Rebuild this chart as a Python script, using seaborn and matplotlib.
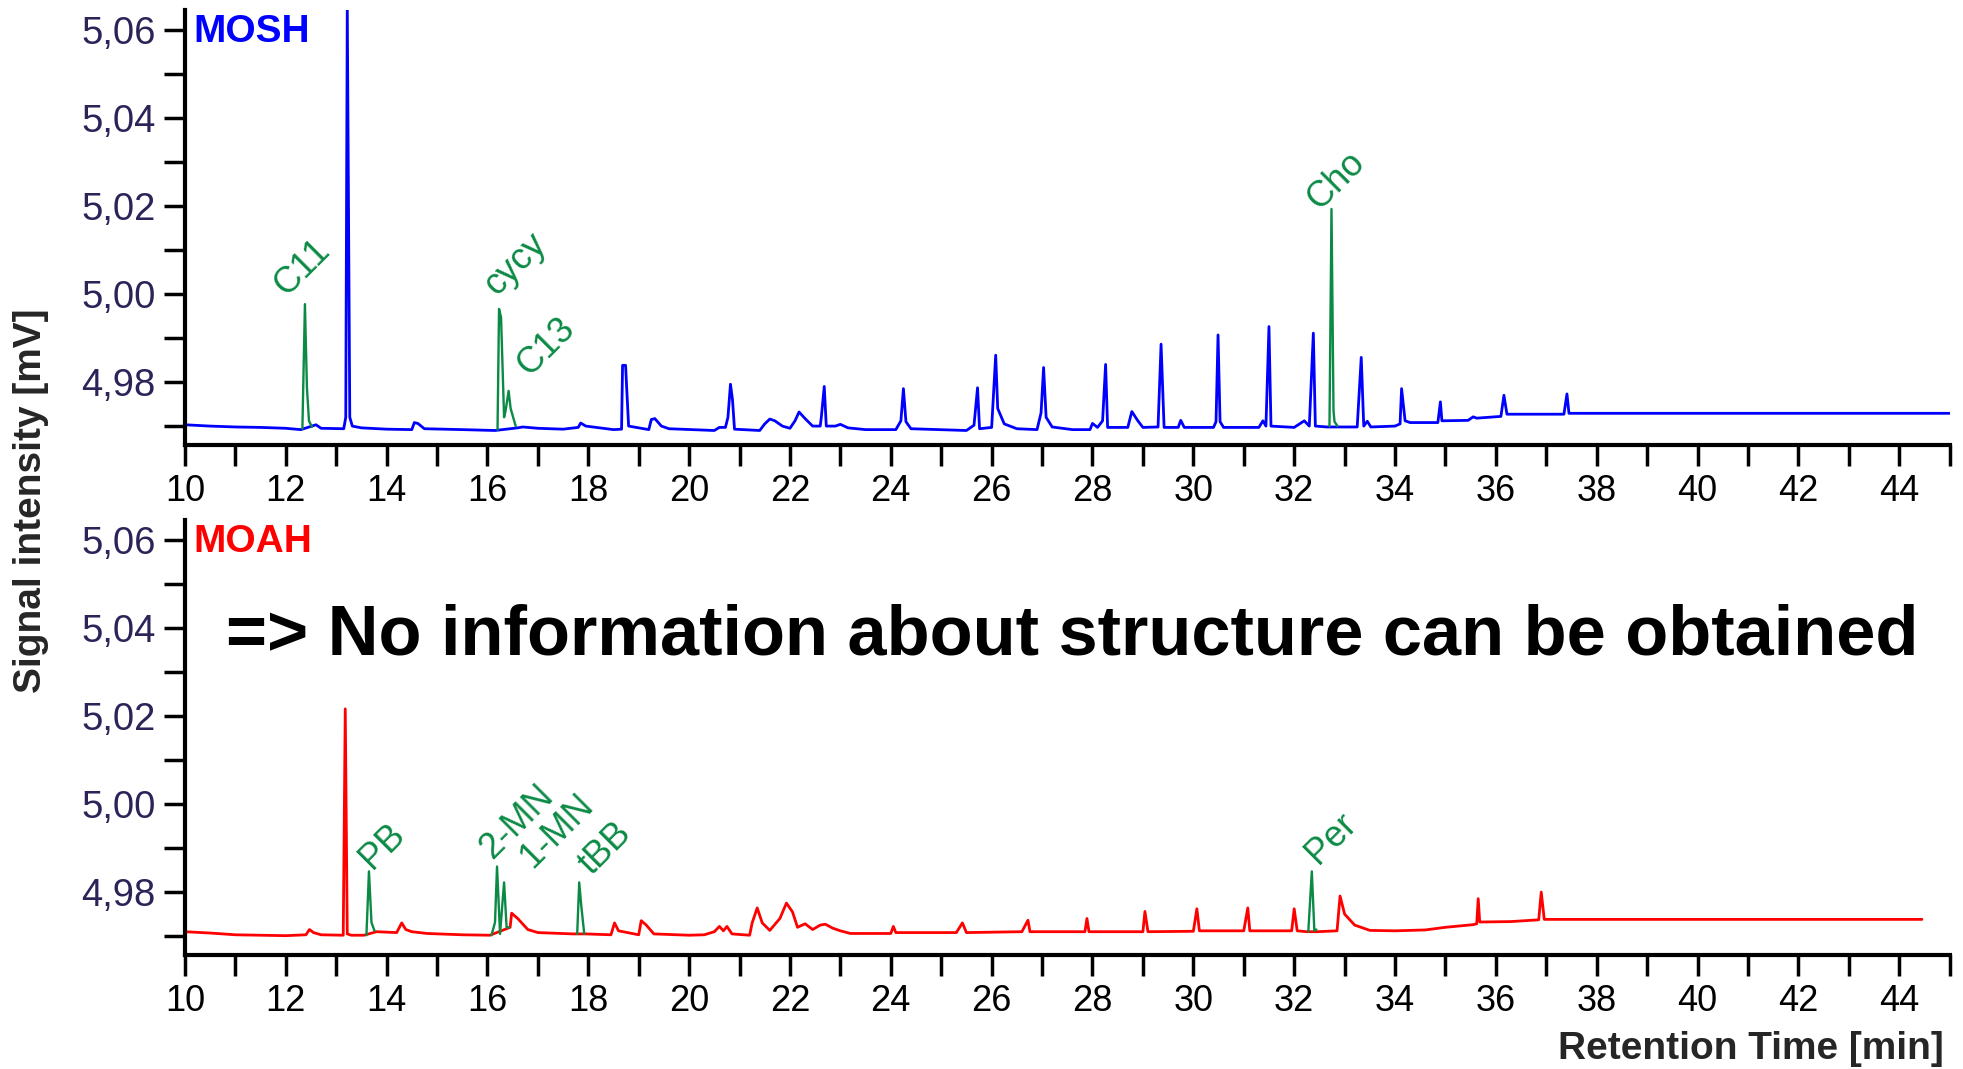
import matplotlib
matplotlib.use('Agg')
import matplotlib.pyplot as plt
import seaborn as sns
from matplotlib.ticker import FixedLocator

# ---- MOSH trace (blue) ----
mosh_t = [10.0, 10.5, 11.0, 11.5, 12.0, 12.3, 12.6, 12.7, 13.15, 13.19, 13.22, 13.27, 13.32, 13.5,
          14.0, 14.5, 14.55, 14.62, 14.75, 15.5, 16.15, 16.6, 16.7, 17.0, 17.5, 17.8, 17.85, 17.95,
          18.5, 18.66, 18.68, 18.74, 18.76, 18.8, 19.2, 19.25, 19.32, 19.45, 19.6, 20.5, 20.6, 20.72,
          20.77, 20.82, 20.86, 20.9, 21.4, 21.5, 21.6, 21.7, 21.85, 22.0, 22.1, 22.18, 22.3, 22.45,
          22.6, 22.62, 22.68, 22.72, 22.9, 23.0, 23.15, 23.5, 24.1, 24.2, 24.25, 24.3, 24.4, 25.5,
          25.65, 25.72, 25.76, 26.0, 26.08, 26.12, 26.25, 26.5, 26.9, 26.98, 27.03, 27.08, 27.2,
          27.6, 27.95, 28.0, 28.1, 28.2, 28.26, 28.3, 28.7, 28.78, 28.9, 29.0, 29.3, 29.36, 29.42,
          29.7, 29.75, 29.82, 30.4, 30.45, 30.49, 30.53, 30.6, 31.3, 31.38, 31.44, 31.5, 31.54,
          32.0, 32.2, 32.3, 32.38, 32.42, 32.65, 32.9, 33.25, 33.33, 33.38, 33.45, 33.52, 34.0,
          34.1, 34.13, 34.2, 34.3, 34.85, 34.9, 34.93, 35.45, 35.55, 35.62, 36.1, 36.16, 36.22,
          37.35, 37.41, 37.45, 45.0]
mosh_s = [4.9703, 4.9700, 4.9698, 4.9697, 4.9695, 4.9692, 4.9703, 4.9695, 4.9694, 4.9720, 5.0650,
          4.9720, 4.9700, 4.9696, 4.9693, 4.9692, 4.9708, 4.9706, 4.9694, 4.9692, 4.9690, 4.9696,
          4.9698, 4.9695, 4.9693, 4.9697, 4.9707, 4.9700, 4.9692, 4.9693, 4.9838, 4.9838, 4.9790,
          4.9700, 4.9692, 4.9715, 4.9717, 4.9700, 4.9694, 4.9690, 4.9697, 4.9697, 4.9720, 4.9795,
          4.9760, 4.9693, 4.9690, 4.9705, 4.9716, 4.9712, 4.9700, 4.9695, 4.9712, 4.9732, 4.9717,
          4.9700, 4.9700, 4.9718, 4.9790, 4.9700, 4.9700, 4.9704, 4.9696, 4.9692, 4.9692, 4.9712,
          4.9785, 4.9710, 4.9694, 4.9690, 4.9702, 4.9787, 4.9694, 4.9697, 4.9861, 4.9740, 4.9705,
          4.9694, 4.9692, 4.9730, 4.9833, 4.9720, 4.9698, 4.9692, 4.9692, 4.9706, 4.9697, 4.9712,
          4.9840, 4.9697, 4.9697, 4.9733, 4.9712, 4.9697, 4.9698, 4.9886, 4.9697, 4.9697, 4.9713,
          4.9697, 4.9697, 4.9710, 4.9907, 4.9710, 4.9697, 4.9697, 4.9712, 4.9700, 4.9926, 4.9700,
          4.9697, 4.9712, 4.9700, 4.9911, 4.9700, 4.9698, 4.9698, 4.9698, 4.9856, 4.9700, 4.9711,
          4.9698, 4.9700, 4.9705, 4.9785, 4.9712, 4.9708, 4.9708, 4.9755, 4.9712, 4.9713, 4.9721,
          4.9718, 4.9722, 4.9770, 4.9727, 4.9727, 4.9773, 4.9729, 4.9729]

# identified MOSH peaks (green)
mosh_id_t = [[12.33, 12.38, 12.42, 12.46, 12.52],
             [16.20, 16.23, 16.27, 16.33, 16.36, 16.42, 16.46, 16.56],
             [32.70, 32.74, 32.78, 32.80, 32.86]]
mosh_id_s = [[4.9694, 4.9977, 4.9787, 4.9712, 4.9698],
             [4.9692, 4.9966, 4.9947, 4.9720, 4.9735, 4.9780, 4.9740, 4.9700],
             [4.9700, 5.0193, 4.9735, 4.9710, 4.9700]]
mosh_labels = ['C11', 'cycy', 'C13', 'Cho']
mosh_label_t = [12.38, 16.23, 16.42, 32.74]
mosh_label_s = [4.9977, 4.9966, 4.9780, 5.0193]

# ---- MOAH trace (red) ----
moah_t = [10.0, 10.5, 11.0, 11.5, 12.0, 12.4, 12.47, 12.55, 12.7, 13.14, 13.18, 13.22, 13.3, 13.55,
          13.8, 14.2, 14.3, 14.38, 14.5, 14.8, 15.5, 16.05, 16.45, 16.48, 16.6, 16.8, 17.0, 17.7,
          17.95, 18.45, 18.52, 18.6, 19.0, 19.05, 19.15, 19.3, 20.0, 20.3, 20.5, 20.6, 20.68, 20.75,
          20.85, 21.2, 21.25, 21.35, 21.45, 21.6, 21.8, 21.93, 22.05, 22.15, 22.3, 22.45, 22.6, 22.7,
          22.85, 23.0, 23.2, 24.0, 24.05, 24.1, 25.3, 25.42, 25.5, 26.6, 26.72, 26.76, 27.85, 27.89,
          27.93, 29.0, 29.04, 29.1, 30.0, 30.07, 30.12, 31.0, 31.08, 31.12, 31.95, 32.0, 32.06,
          32.25, 32.45, 32.85, 32.91, 33.0, 33.2, 33.5, 34.0, 34.6, 35.0, 35.55, 35.62, 35.65,
          35.68, 36.3, 36.85, 36.9, 36.96, 44.45]
moah_s = [4.9710, 4.9707, 4.9703, 4.9702, 4.9701, 4.9703, 4.9715, 4.9708, 4.9703, 4.9702, 5.0216,
          4.9705, 4.9702, 4.9702, 4.9710, 4.9708, 4.9730, 4.9715, 4.9710, 4.9706, 4.9703, 4.9702,
          4.9720, 4.9752, 4.9740, 4.9715, 4.9708, 4.9705, 4.9705, 4.9703, 4.9730, 4.9712, 4.9703,
          4.9735, 4.9725, 4.9705, 4.9702, 4.9703, 4.9710, 4.9722, 4.9712, 4.9722, 4.9705, 4.9702,
          4.9730, 4.9764, 4.9730, 4.9713, 4.9740, 4.9775, 4.9755, 4.9720, 4.9728, 4.9715, 4.9725,
          4.9727, 4.9718, 4.9712, 4.9706, 4.9706, 4.9722, 4.9708, 4.9708, 4.9730, 4.9708, 4.9710,
          4.9736, 4.9710, 4.9710, 4.9740, 4.9710, 4.9710, 4.9756, 4.9710, 4.9711, 4.9762, 4.9712,
          4.9712, 4.9764, 4.9712, 4.9712, 4.9762, 4.9712, 4.9710, 4.9710, 4.9712, 4.9791, 4.9750,
          4.9725, 4.9713, 4.9712, 4.9714, 4.9720, 4.9726, 4.9728, 4.9785, 4.9732, 4.9733, 4.9737,
          4.9800, 4.9738, 4.9738]

# identified MOAH peaks (green)
moah_id_t = [[13.60, 13.65, 13.70, 13.76],
             [16.08, 16.15, 16.19, 16.25, 16.33, 16.38, 16.43],
             [17.78, 17.82, 17.86, 17.92],
             [32.28, 32.35, 32.40, 32.44]]
moah_id_s = [[4.9702, 4.9847, 4.9731, 4.9712],
             [4.9702, 4.9731, 4.9858, 4.9705, 4.9822, 4.9720, 4.9720],
             [4.9705, 4.9822, 4.9770, 4.9705],
             [4.9710, 4.9847, 4.9712, 4.9715]]
moah_labels = ['PB', '2-MN', '1-MN', 'tBB', 'Per']
moah_label_t = [13.65, 16.19, 16.33, 17.82, 32.35]
moah_label_s = [4.9847, 4.9858, 4.9822, 4.9822, 4.9847]

y_ticks = [4.98, 5.00, 5.02, 5.04, 5.06]
y_tick_labels = ['4,98', '5,00', '5,02', '5,04', '5,06']
y_minor = [4.97, 4.99, 5.01, 5.03, 5.05]
x_ticks = list(range(10, 45, 2))
x_minor = list(range(11, 46, 2))

GREEN = '#0b8a45'
TICKCOL = '#2e2358'

sns.set_style('ticks')
plt.rcParams['font.family'] = ['Liberation Sans', 'DejaVu Sans']

fig = plt.figure(figsize=(19.63, 10.69), dpi=100)
ax_top = fig.add_axes([0.0942, 0.5837, 0.899, 0.407])
ax_bot = fig.add_axes([0.0942, 0.1066, 0.899, 0.407])


def style_axis(ax):
    ax.set_xlim(10, 45)
    ax.set_ylim(4.9657, 5.0645)
    sns.despine(ax=ax)
    for side in ['left', 'bottom']:
        ax.spines[side].set_linewidth(3.0)
        ax.spines[side].set_color('black')
    ax.yaxis.set_major_locator(FixedLocator(y_ticks))
    ax.yaxis.set_minor_locator(FixedLocator(y_minor))
    ax.set_yticklabels(y_tick_labels)
    ax.xaxis.set_major_locator(FixedLocator(x_ticks))
    ax.xaxis.set_minor_locator(FixedLocator(x_minor))
    ax.set_xticklabels([str(v) for v in x_ticks])
    ax.tick_params(which='both', direction='out', length=15, width=2.5, color='black')
    ax.tick_params(axis='y', which='major', labelsize=27.5, labelcolor=TICKCOL, pad=6)
    ax.tick_params(axis='x', which='major', labelsize=26, labelcolor='black', pad=6)
    ax.set_xlabel('')
    ax.set_ylabel('')


def draw_panel(ax, t, s, color, id_t, id_s, labels, lab_t, lab_s, offsets):
    sns.lineplot(x=t, y=s, ax=ax, color=color, linewidth=2.0,
                 estimator=None, sort=False, legend=False)
    for pt, ps in zip(id_t, id_s):
        sns.lineplot(x=pt, y=ps, ax=ax, color=GREEN, linewidth=1.7,
                     estimator=None, sort=False, legend=False)
    for name, lt, ls, off in zip(labels, lab_t, lab_s, offsets):
        ax.annotate(name, xy=(lt, ls), xytext=off, textcoords='offset points',
                    rotation=45, ha='center', va='center', fontsize=26, color=GREEN)
    style_axis(ax)


draw_panel(ax_top, mosh_t, mosh_s, '#0000ff', mosh_id_t, mosh_id_s,
           mosh_labels, mosh_label_t, mosh_label_s,
           [(-2, 26), (12, 32), (27, 32), (3, 20)])
draw_panel(ax_bot, moah_t, moah_s, '#ff0000', moah_id_t, moah_id_s,
           moah_labels, moah_label_t, moah_label_s,
           [(10, 18), (14, 32), (38, 37), (19, 24), (14, 24)])

ax_top.text(0.005, 0.99, 'MOSH', transform=ax_top.transAxes, ha='left', va='top',
            fontsize=28, fontweight='bold', color='#0000ff')
ax_bot.text(0.005, 0.99, 'MOAH', transform=ax_bot.transAxes, ha='left', va='top',
            fontsize=28, fontweight='bold', color='#ff0000')
ax_bot.text(0.5025, 0.733, '=> No information about structure can be obtained',
            transform=ax_bot.transAxes, ha='center', va='center',
            fontsize=50.7, fontweight='bold', color='black')

fig.text(0.016, 0.532, 'Signal intensity [mV]', rotation=90, ha='center', va='center',
         fontsize=28, fontweight='bold')
fig.text(0.990, 0.019, 'Retention Time [min]', ha='right', va='center',
         fontsize=28, fontweight='bold')

fig.savefig('out.png', dpi=100)
